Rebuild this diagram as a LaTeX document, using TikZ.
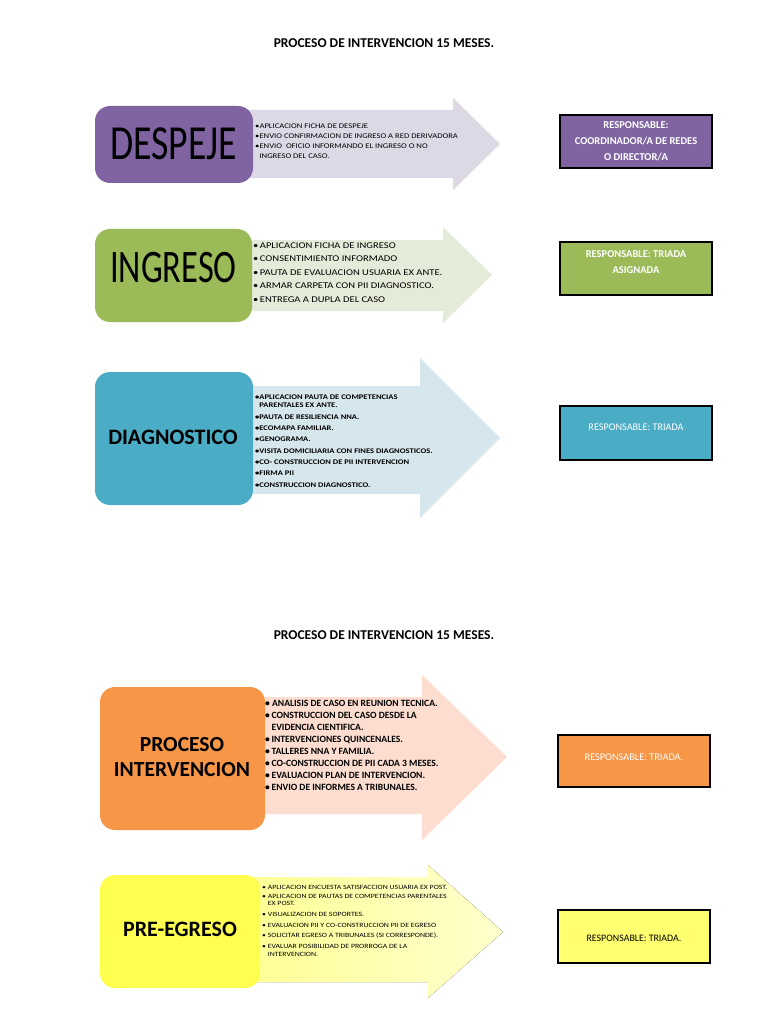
\documentclass[tikz,border=0pt]{standalone}
\usepackage{fontspec}
\setmainfont{Carlito}
\newfontfamily\wideF[FakeStretch=1.2]{Carlito}
\definecolor{cpurple}{HTML}{8064A2}
\definecolor{cgreen}{HTML}{9BBB59}
\definecolor{cblue}{HTML}{4BACC6}
\definecolor{corange}{HTML}{F79646}
\definecolor{cyellow}{HTML}{FFFF50}
\definecolor{cyellowr}{HTML}{FFFF70}
\definecolor{apurple}{RGB}{221,216,230}
\definecolor{agreen}{RGB}{228,235,216}
\definecolor{ablue}{RGB}{214,230,237}
\definecolor{aorange}{RGB}{252,221,208}
\definecolor{ayellowa}{RGB}{255,255,150}
\definecolor{ayellowb}{RGB}{255,255,205}
\begin{document}
\begin{tikzpicture}[x=1pt,y=-1pt,
  stepbox/.style={rounded corners=15pt, inner sep=0pt, draw=none},
  respbox/.style={draw=black, line width=1.5pt, inner sep=0pt},
  biglbl/.style={inner sep=0pt, align=center},
  listtxt/.style={anchor=north west, inner sep=0pt, align=left},
  titletxt/.style={inner sep=0pt, font=\bfseries\fontsize{13.5}{16}\selectfont}]
\useasboundingbox[fill=white] (0,0) rectangle (768,1024);

% titles
\node[titletxt] (title1) at (384,43) {PROCESO DE INTERVENCION 15 MESES.};
\node[titletxt] (title2) at (384,635) {PROCESO DE INTERVENCION 15 MESES.};

% ---------- Row 1: DESPEJE ----------
\fill[apurple] (240,110) -- (453,110) -- (453,98) -- (500,144) -- (453,190) -- (453,178) -- (240,178) -- cycle;
\node[stepbox, fill=cpurple, minimum width=158pt, minimum height=77pt] (despeje) at (174,144.5) {};
\node[biglbl] (despejelbl) at (173.5,144) {\scalebox{0.77}[1]{\fontsize{49}{49}\selectfont DESPEJE}};
\node[listtxt, font=\wideF\fontsize{7.2}{10}\selectfont] (despejelist) at (255,123.2) {%
•APLICACION FICHA DE DESPEJE\\
•ENVIO CONFIRMACION DE INGRESO A RED DERIVADORA\\
•ENVIO \ OFICIO INFORMANDO EL INGRESO O NO\\
\hphantom{•}INGRESO DEL CASO.};
\node[respbox, fill=cpurple, minimum width=152pt, minimum height=53pt] (resp1) at (636,141.5) {};
\node[biglbl, text=white, font=\bfseries\fontsize{10.5}{16}\selectfont] (resp1txt) at (636,141) {RESPONSABLE:\\COORDINADOR/A DE REDES\\O DIRECTOR/A};

% ---------- Row 2: INGRESO ----------
\fill[agreen] (240,240) -- (443,240) -- (443,227) -- (492,275) -- (443,323) -- (443,311) -- (240,311) -- cycle;
\node[stepbox, fill=cgreen, minimum width=157pt, minimum height=93pt] (ingreso) at (173.5,275.5) {};
\node[biglbl] (ingresolbl) at (173.5,268) {\scalebox{0.74}[1]{\fontsize{46.6}{47}\selectfont INGRESO}};
\node[listtxt, font=\wideF\fontsize{8.8}{13.5}\selectfont] (ingresolist) at (253,242.2) {%
•\,APLICACION FICHA DE INGRESO\\
•\,CONSENTIMIENTO INFORMADO\\
•\,PAUTA DE EVALUACION USUARIA EX ANTE.\\
•\,ARMAR CARPETA CON PII DIAGNOSTICO.\\
•\,ENTREGA A DUPLA DEL CASO};
\node[respbox, fill=cgreen, minimum width=152pt, minimum height=53pt] (resp2) at (636,268.5) {};
\node[biglbl, text=white, font=\bfseries\fontsize{10.5}{16}\selectfont] (resp2txt) at (636,262) {RESPONSABLE: TRIADA\\ASIGNADA};

% ---------- Row 3: DIAGNOSTICO ----------
\fill[ablue] (240,386) -- (420,386) -- (420,358) -- (500,438) -- (420,518) -- (420,494) -- (240,494) -- cycle;
\node[stepbox, fill=cblue, minimum width=158pt, minimum height=133pt] (diag) at (174,438.5) {};
\node[biglbl, font=\bfseries\fontsize{22}{24}\selectfont] (diaglbl) at (173,437) {DIAGNOSTICO};
\node[listtxt, font=\wideF\bfseries\fontsize{7.1}{7.5}\selectfont] (diaglist) at (255,394.7) {%
•APLICACION PAUTA DE COMPETENCIAS\\
\hphantom{•}PARENTALES EX ANTE.\\[4.8pt]
•PAUTA DE RESILIENCIA NNA.\\[3.8pt]
•ECOMAPA FAMILIAR.\\[3.8pt]
•GENOGRAMA.\\[3.8pt]
•VISITA DOMICILIARIA CON FINES DIAGNOSTICOS.\\[3.8pt]
•CO- CONSTRUCCION DE PII INTERVENCION\\[3.8pt]
•FIRMA PII\\[3.8pt]
•CONSTRUCCION DIAGNOSTICO.};
\node[respbox, fill=cblue, minimum width=152pt, minimum height=54pt] (resp3) at (636,433) {};
\node[biglbl, text=white, font=\fontsize{10.2}{12}\selectfont] (resp3txt) at (636,427) {RESPONSABLE: TRIADA};

% ---------- Row 4: PROCESO INTERVENCION ----------
\fill[aorange] (250,697) -- (422,697) -- (422,675) -- (507,757) -- (422,840) -- (422,814) -- (250,814) -- cycle;
\node[stepbox, fill=corange, minimum width=165pt, minimum height=143pt] (proceso) at (182.5,758.5) {};
\node[biglbl, font=\bfseries\fontsize{21.5}{25}\selectfont] (procesolbl) at (182,757.5) {PROCESO\\INTERVENCION};
\node[listtxt, font=\bfseries\fontsize{9.6}{12}\selectfont] (procesolist) at (265,700) {%
• ANALISIS DE CASO EN REUNION TECNICA.\\
•\,CONSTRUCCION DEL CASO DESDE LA\\
\hphantom{•\,}EVIDENCIA CIENTIFICA.\\
•\,INTERVENCIONES QUINCENALES.\\
•\,TALLERES NNA Y FAMILIA.\\
•\,CO-CONSTRUCCION DE PII CADA 3 MESES.\\
•\,EVALUACION PLAN DE INTERVENCION.\\
•\,ENVIO DE INFORMES A TRIBUNALES.};
\node[respbox, fill=corange, minimum width=152pt, minimum height=52pt] (resp4) at (634,761) {};
\node[biglbl, text=white, font=\fontsize{10.3}{12}\selectfont] (resp4txt) at (634,757) {RESPONSABLE: TRIADA.};

% ---------- Row 5: PRE-EGRESO ----------
\fill[left color=ayellowa, right color=ayellowb] (250,877) -- (428,877) -- (428,865) -- (503,932) -- (428,998) -- (428,982) -- (250,982) -- cycle;
\node[stepbox, fill=cyellow, minimum width=160pt, minimum height=113pt] (preegreso) at (180,931.5) {};
\node[biglbl, font=\bfseries\fontsize{22}{24}\selectfont] (preegresolbl) at (180,929) {PRE-EGRESO};
\node[listtxt, font=\wideF\fontsize{6.5}{7.5}\selectfont] (preegresolist) at (262,884.9) {%
• APLICACION ENCUESTA SATISFACCION USUARIA EX POST.\\[1.5pt]
• APLICACION DE PAUTAS DE COMPETENCIAS PARENTALES\\
\hphantom{• }EX POST.\\[3.2pt]
• VISUALIZACION DE SOPORTES.\\[3.2pt]
• EVALUACION PII Y CO-CONSTRUCCION PII DE EGRESO\\[3.2pt]
• SOLICITAR EGRESO A TRIBUNALES (SI CORRESPONDE).\\[3.2pt]
• EVALUAR POSIBILIDAD DE PRORROGA DE LA\\
\hphantom{• }INTERVENCION.};
\node[respbox, fill=cyellowr, minimum width=152pt, minimum height=53pt] (resp5) at (634,936.5) {};
\node[biglbl, text=black, font=\fontsize{9.9}{12}\selectfont] (resp5txt) at (634,938) {RESPONSABLE: TRIADA.};
\end{tikzpicture}
\end{document}
